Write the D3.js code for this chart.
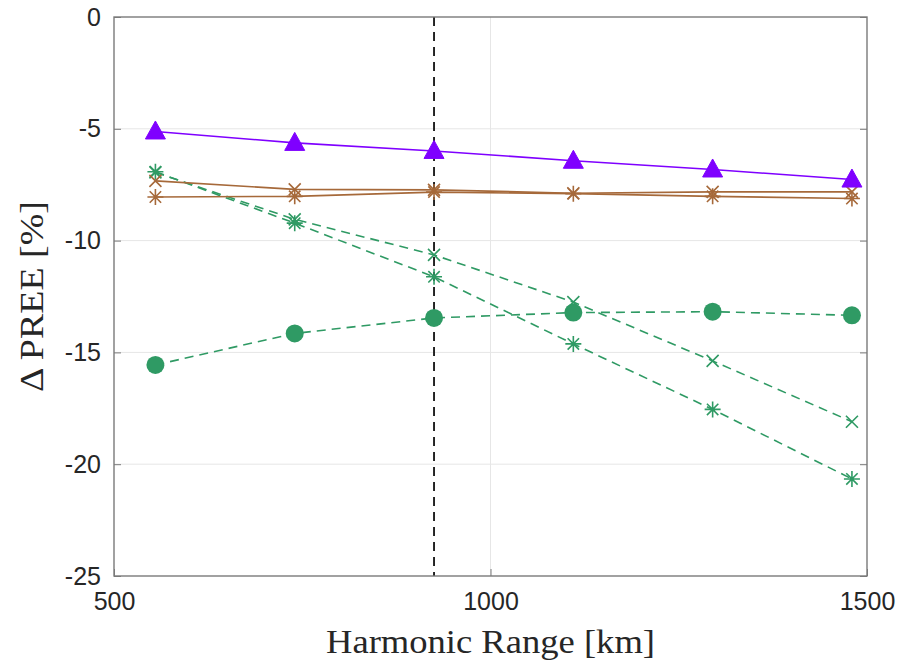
<!DOCTYPE html>
<html>
<head>
<meta charset="utf-8">
<script src="https://cdn.jsdelivr.net/npm/d3@7"></script>
<style>
  html, body { margin: 0; padding: 0; background: #fff; }
  svg { display: block; }
</style>
</head>
<body>
<svg id="chart" width="899" height="665"></svg>
<script>
// Harmonic range values (km) shared by all series
const ranges = [555, 740, 925, 1110, 1295, 1480];

// Change in PREE (%) for each configuration
const purpleTri = [-5.12, -5.63, -5.99, -6.43, -6.82, -7.27];
const brownX    = [-7.33, -7.71, -7.73, -7.88, -7.82, -7.82];
const brownStar = [-8.05, -8.02, -7.83, -7.90, -8.02, -8.12];
const greenDot  = [-15.56, -14.15, -13.46, -13.22, -13.18, -13.34];
const greenX    = [-6.95, -9.05, -10.64, -12.75, -15.38, -18.10];
const greenStar = [-6.92, -9.22, -11.62, -14.62, -17.55, -20.66];

// Reference range marked with a dashed vertical line
const markedRange = 925;

// Axis ticks
const xTicks = [500, 1000, 1500];
const yTicks = [0, -5, -10, -15, -20, -25];

const purple = "#7f00ff";
const brown = "#a6693a";
const green = "#2f9a64";

const svg = d3.select("#chart");
const plotL = 114, plotR = 867, plotT = 17, plotB = 576;

const x = d3.scaleLinear().domain([500, 1500]).range([plotL, plotR]);
const y = d3.scaleLinear().domain([-25, 0]).range([plotB, plotT]);

// grid lines
const grid = svg.append("g");
grid.selectAll("line.gx").data(xTicks.slice(1, -1)).join("line")
  .attr("x1", d => x(d)).attr("x2", d => x(d))
  .attr("y1", plotT).attr("y2", plotB)
  .attr("stroke", "#e6e6e6").attr("stroke-width", 1);
grid.selectAll("line.gy").data(yTicks.slice(1, -1)).join("line")
  .attr("x1", plotL).attr("x2", plotR)
  .attr("y1", d => y(d)).attr("y2", d => y(d))
  .attr("stroke", "#e6e6e6").attr("stroke-width", 1);

// dashed reference line
svg.append("line")
  .attr("x1", x(markedRange)).attr("x2", x(markedRange))
  .attr("y1", plotT).attr("y2", plotB)
  .attr("stroke", "#111").attr("stroke-width", 1.8)
  .attr("stroke-dasharray", "9,6");

const line = d3.line().x((d, i) => x(ranges[i])).y(d => y(d));

function drawSeries(vals, color, dashed, marker) {
  const g = svg.append("g");
  g.append("path").datum(vals)
    .attr("d", line)
    .attr("fill", "none")
    .attr("stroke", color)
    .attr("stroke-width", 1.6)
    .attr("stroke-dasharray", dashed ? "9,6" : null);
  const pts = g.selectAll("g.m").data(vals).join("g")
    .attr("transform", (d, i) => `translate(${x(ranges[i])},${y(d)})`);
  if (marker === "tri") {
    pts.append("path")
      .attr("d", "M0,-10.5 L10,7.5 L-10,7.5 Z")
      .attr("fill", color).attr("stroke", color).attr("stroke-width", 1);
  } else if (marker === "dot") {
    pts.append("circle").attr("r", 9).attr("fill", color);
  } else if (marker === "x") {
    const s = 6;
    pts.append("path")
      .attr("d", `M${-s},${-s}L${s},${s}M${-s},${s}L${s},${-s}`)
      .attr("stroke", color).attr("stroke-width", 1.6).attr("fill", "none");
  } else if (marker === "star") {
    const s = 8, d = 5.7;
    pts.append("path")
      .attr("d", `M0,${-s}L0,${s}M${-s},0L${s},0M${-d},${-d}L${d},${d}M${-d},${d}L${d},${-d}`)
      .attr("stroke", color).attr("stroke-width", 1.6).attr("fill", "none");
  }
}

drawSeries(greenDot, green, true, "dot");
drawSeries(greenX, green, true, "x");
drawSeries(greenStar, green, true, "star");
drawSeries(brownStar, brown, false, "star");
drawSeries(brownX, brown, false, "x");
drawSeries(purpleTri, purple, false, "tri");

// axes box and ticks
const axisColor = "#7a7a7a";
svg.append("rect")
  .attr("x", plotL).attr("y", plotT)
  .attr("width", plotR - plotL).attr("height", plotB - plotT)
  .attr("fill", "none").attr("stroke", axisColor).attr("stroke-width", 1.4);

const plainNum = d => String(d);

const xAxis = d3.axisBottom(x).tickValues(xTicks).tickSizeInner(-7).tickSizeOuter(0)
  .tickPadding(16).tickFormat(plainNum);
const gx = svg.append("g").attr("transform", `translate(0,${plotB})`).call(xAxis);
gx.select(".domain").remove();
gx.selectAll(".tick line").attr("stroke", axisColor);
gx.selectAll(".tick text")
  .attr("font-family", "Liberation Sans, Arial, sans-serif")
  .attr("font-size", 25).attr("fill", "#262626").attr("dy", "0.71em");

const yAxis = d3.axisLeft(y).tickValues(yTicks).tickSizeInner(-7).tickSizeOuter(0)
  .tickPadding(13).tickFormat(plainNum);
const gy = svg.append("g").attr("transform", `translate(${plotL},0)`).call(yAxis);
gy.select(".domain").remove();
gy.selectAll(".tick line").attr("stroke", axisColor);
gy.selectAll(".tick text")
  .attr("font-family", "Liberation Sans, Arial, sans-serif")
  .attr("font-size", 25).attr("fill", "#262626");

const yAxisR = d3.axisRight(y).tickValues(yTicks).tickSizeInner(-7).tickSizeOuter(0).tickFormat("");
const gyr = svg.append("g").attr("transform", `translate(${plotR},0)`).call(yAxisR);
gyr.select(".domain").remove();
gyr.selectAll(".tick line").attr("stroke", axisColor);

// axis titles
svg.append("text")
  .attr("x", (plotL + plotR) / 2).attr("y", 653)
  .attr("text-anchor", "middle")
  .attr("font-family", "Liberation Serif, DejaVu Serif, serif")
  .attr("font-size", 33).attr("fill", "#262626")
  .attr("textLength", 329).attr("lengthAdjust", "spacingAndGlyphs")
  .text("Harmonic Range [km]");

svg.append("text")
  .attr("transform", `translate(43,${(plotT + plotB) / 2}) rotate(-90)`)
  .attr("text-anchor", "middle")
  .attr("font-family", "Liberation Serif, DejaVu Serif, serif")
  .attr("font-size", 33).attr("fill", "#262626")
  .attr("textLength", 191).attr("lengthAdjust", "spacingAndGlyphs")
  .text("Δ PREE [%]");
</script>
</body>
</html>
